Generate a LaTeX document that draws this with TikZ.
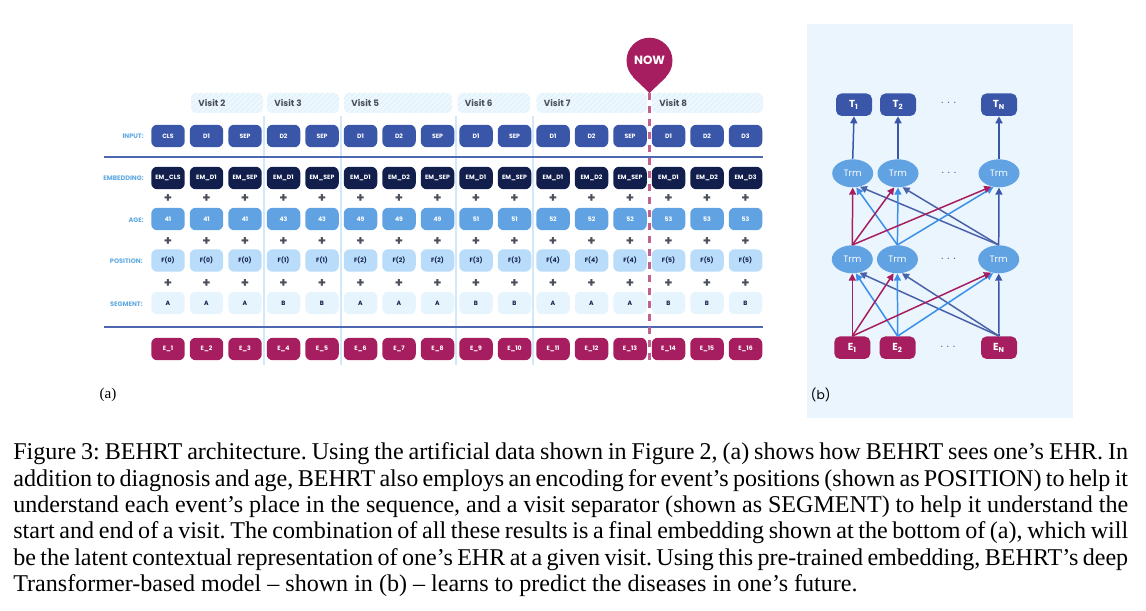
\documentclass[tikz,border=0pt]{standalone}
\usepackage{fontspec}
\setmainfont{Liberation Serif}
\newfontfamily\boxfont{Poppins}
\usepackage{xcolor}
\usetikzlibrary{calc, positioning}
\usetikzlibrary{arrows.meta}
\usetikzlibrary{patterns}
\usetikzlibrary{shapes.geometric}

\definecolor{inputblue}{HTML}{3A56A8}
\definecolor{embnavy}{HTML}{121F4D}
\definecolor{ageblue}{HTML}{61A2E2}
\definecolor{posblue}{HTML}{B8DCF9}
\definecolor{segblue}{HTML}{E6F4FE}
\definecolor{crimson}{HTML}{A61E60}
\definecolor{brightblue}{HTML}{3B8FEA}
\definecolor{dustyblue}{HTML}{4A62A8}
\definecolor{labelblue}{HTML}{5FA8E0}
\definecolor{panelblue}{HTML}{EAF5FE}
\definecolor{plusgrey}{HTML}{4A4F5A}

\tikzset{
  tok/.style={rounded corners=0.12cm, minimum width=0.67cm, minimum height=0.45cm, inner sep=0pt,
    font=\boxfont\bfseries\fontsize{3.5}{4}\selectfont},
  inputtok/.style={tok, fill=inputblue, text=white},
  embtok/.style={tok, fill=embnavy, text=white},
  agetok/.style={tok, fill=ageblue, text=white},
  postok/.style={tok, fill=posblue, text=embnavy},
  segtok/.style={tok, fill=segblue, text=embnavy},
  evttok/.style={tok, fill=crimson, text=white},
  plussign/.style={inner sep=0pt, text=plusgrey, font=\boxfont\bfseries\fontsize{7.5}{8}\selectfont},
  rowlabel/.style={anchor=east, inner sep=0pt, text=labelblue, font=\boxfont\bfseries\fontsize{3.7}{4}\selectfont},
  visitbox/.style={rounded corners=0.1cm, preaction={fill=segblue!70!white}, pattern=north east lines, pattern color=posblue!45!white},
  visitlabel/.style={anchor=west, inner sep=0pt, text=plusgrey, font=\boxfont\bfseries\fontsize{5}{6}\selectfont},
  bigtok/.style={rounded corners=0.11cm, minimum width=0.72cm, minimum height=0.45cm, inner sep=0pt,
    text=white, font=\boxfont\bfseries\fontsize{5.8}{6}\selectfont},
  trm/.style={ellipse, fill=ageblue, text=white, minimum width=0.82cm, minimum height=0.56cm, inner sep=0pt,
    font=\boxfont\fontsize{5.3}{6}\selectfont},
  dotsep/.style={inner sep=0pt, text=inputblue, font=\boxfont\fontsize{6}{6}\selectfont},
  link/.style={-{Triangle[length=4pt,width=4pt]}, line width=0.85pt},
}

\begin{document}
\begin{tikzpicture}[x=0.02cm,y=-0.02cm]
\useasboundingbox (0,0) rectangle (1146,611);

% panel (a)
\foreach \sepx in {264,341,456,533} {
  \draw[posblue!65!white, line width=0.6pt] (\sepx,116) -- (\sepx,365);
}

\foreach \vname/\xa/\xb in {2/191/263,3/267/339,5/344/452,6/457.5/530,7/536.5/647,8/652/763} {
  \path[visitbox] (\xa,93) rectangle (\xb,113);
  \node[visitlabel] (V\vname) at (\xa+7,103) {Visit \vname};
}

\coordinate (rulea) at (104,157);
\coordinate (ruleb) at (763,157);
\coordinate (rulec) at (104,327);
\coordinate (ruled) at (763,327);
\draw[inputblue!90!white, line width=1.2pt] (rulea) -- (ruleb);
\draw[inputblue!90!white, line width=1.2pt] (rulec) -- (ruled);

\node[rowlabel] (LINP) at (144,136) {INPUT:};
\node[rowlabel] (LEMB) at (144,178) {EMBEDDING:};
\node[rowlabel] (LAGE) at (144,220) {AGE:};
\node[rowlabel] (LPOS) at (143,261) {POSITION:};
\node[rowlabel] (LSEG) at (143,304) {SEGMENT:};

\foreach \inp/\emb/\ag/\pos/\seg [count=\col from 0] in {
  CLS/EM\_CLS/41/F(0)/A,D1/EM\_D1/41/F(0)/A,SEP/EM\_SEP/41/F(0)/A,
  D2/EM\_D1/43/F(1)/B,SEP/EM\_SEP/43/F(1)/B,
  D1/EM\_D1/49/F(2)/A,D2/EM\_D2/49/F(2)/A,SEP/EM\_SEP/49/F(2)/A,
  D1/EM\_D1/51/F(3)/B,SEP/EM\_SEP/51/F(3)/B,
  D1/EM\_D1/52/F(4)/A,D2/EM\_D2/52/F(4)/A,SEP/EM\_SEP/52/F(4)/A,
  D1/EM\_D1/53/F(5)/B,D2/EM\_D2/53/F(5)/B,D3/EM\_D3/53/F(5)/B} {
  \pgfmathsetmacro{\colx}{168+38.5*\col}
  \pgfmathtruncatemacro{\evt}{\col+1}
  \node[inputtok] (INP\col) at (\colx,136) {\inp};
  \node[embtok] (EMB\col) at (\colx,178) {\emb};
  \node[plussign] (PA\col) at (\colx,199) {+};
  \node[agetok] (AGE\col) at (\colx,219) {\ag};
  \node[plussign] (PB\col) at (\colx,241.5) {+};
  \node[postok] (POS\col) at (\colx,260.5) {\pos};
  \node[plussign] (PC\col) at (\colx,284) {+};
  \node[segtok] (SEG\col) at (\colx,303) {\seg};
  \node[evttok] (EVT\col) at (\colx,349) {E\_\evt};
}

\node[circle, fill=crimson, minimum size=0.92cm, inner sep=0pt, text=white,
  font=\boxfont\bfseries\fontsize{6.8}{7}\selectfont] (nowpin) at (649.5,60.7) {NOW};
\coordinate (nowtip) at (649.5,93);
\coordinate (nowend) at (649.5,365);
\fill[crimson] (nowpin.-44) -- (nowtip) -- (nowpin.-136) -- cycle;
\draw[crimson!70!white, line width=1.9pt, dash pattern=on 0.14cm off 0.12cm] (nowtip) -- (nowend);

\node[inner sep=0pt, font=\fontsize{8.6}{9}\selectfont] (capa) at (108,395) {(a)};

% panel (b)
\fill[panelblue] (807,24) rectangle (1073,418);

\foreach \name/\posx in {1/854,2/898,N/999} {
  \node[bigtok, fill=inputblue] (T\name) at (\posx,104.7) {T\textsubscript{\name}};
}
\foreach \name/\posx in {1/852.7,2/898,N/999} {
  \node[trm] (A\name) at (\posx,173.3) {Trm};
}
\foreach \name/\posx in {1/852.3,2/897.4,N/998.7} {
  \node[trm] (B\name) at (\posx,259.3) {Trm};
}
\foreach \name/\posx in {1/852.3,2/897.6,N/999} {
  \node[bigtok, fill=crimson] (E\name) at (\posx,347.7) {E\textsubscript{\name}};
}
\node[dotsep] (dotT) at (948.7,103) {$\cdots$};
\node[dotsep] (dotA) at (949,173) {$\cdots$};
\node[dotsep] (dotB) at (948.5,259) {$\cdots$};
\node[dotsep] (dotE) at (948,347) {$\cdots$};

\foreach \name in {1,2,N} {
  \draw[link, inputblue] (A\name.north) -- (T\name.south);
}

% same fan between both layers
\foreach \src/\dst in {E/B,B/A} {
  \draw[link, dustyblue] (\src N.north) -- (\dst 1.-62);
  \draw[link, dustyblue] (\src N.north) -- (\dst 2.-72);
  \draw[link, brightblue] (\src 2.north) -- (\dst 1.-76);
  \draw[link, brightblue] (\src 2.north) -- (\dst 2.south);
  \draw[link, brightblue] (\src 2.north) -- (\dst N.-112);
  \draw[link, inputblue] (\src N.north) -- (\dst N.south);
  \draw[link, crimson] (\src 1.north) -- (\dst 1.south);
  \draw[link, crimson] (\src 1.north) -- (\dst 2.-105);
  \draw[link, crimson] (\src 1.north) -- (\dst N.-120);
}

\node[inner sep=0pt, font=\boxfont\fontsize{7}{8}\selectfont] (capb) at (820.7,395) {(b)};

\node[anchor=north west, inner sep=0pt, text width=634.5pt, align=justify,
  font=\frenchspacing\fontsize{13.7}{15}\selectfont] (caption) at (13,442.5) {Figure 3: BEHRT architecture. Using the artificial data shown in Figure 2, (a) shows how BEHRT sees one’s EHR. In\linebreak
addition to diagnosis and age, BEHRT also employs an encoding for event’s positions (shown as POSITION) to help it\linebreak
understand each event’s place in the sequence, and a visit separator (shown as SEGMENT) to help it understand the\linebreak
start and end of a visit. The combination of all these results is a final embedding shown at the bottom of (a), which will\linebreak
be the latent contextual representation of one’s EHR at a given visit. Using this pre-trained embedding, BEHRT’s deep\linebreak
Transformer-based model – shown in (b) – learns to predict the diseases in one’s future.};
\end{tikzpicture}
\end{document}
